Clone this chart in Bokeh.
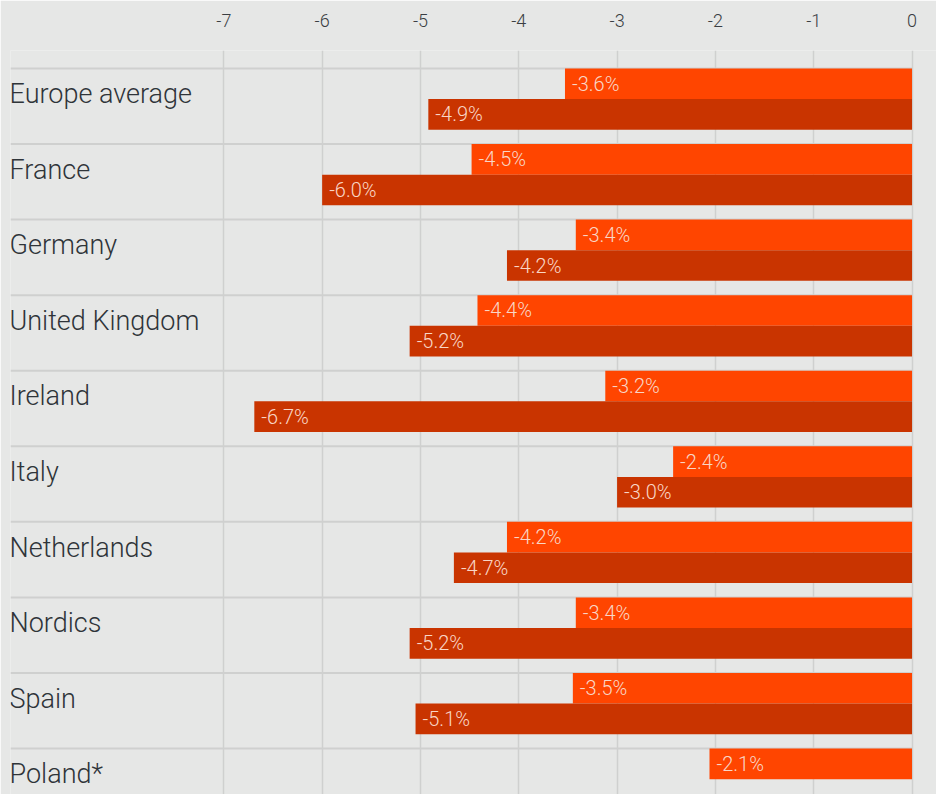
from bokeh.plotting import figure
from bokeh.models import Range1d, FixedTicker, ColumnDataSource
from bokeh.core.properties import value
from bokeh.embed import file_html
from bokeh.resources import INLINE

categories = ["Europe average", "France", "Germany", "United Kingdom", "Ireland",
              "Italy", "Netherlands", "Nordics", "Spain", "Poland*"]
series_a = [-3.53, -4.48, -3.42, -4.42, -3.12, -2.43, -4.12, -3.42, -3.45, -2.06]
series_b = [-4.92, -6.00, -4.12, -5.11, -6.69, -3.00, -4.66, -5.11, -5.05, None]
labels_a = ["-3.6%", "-4.5%", "-3.4%", "-4.4%", "-3.2%", "-2.4%", "-4.2%", "-3.4%", "-3.5%", "-2.1%"]
labels_b = ["-4.9%", "-6.0%", "-4.2%", "-5.2%", "-6.7%", "-3.0%", "-4.7%", "-5.2%", "-5.1%", ""]
ticks = [-7, -6, -5, -4, -3, -2, -1, 0]
tick_labels = ["-7", "-6", "-5", "-4", "-3", "-2", "-1", "0"]

BG = "#e6e7e6"
LIGHT = "#ff4500"
DARK = "#c93400"
FONT = value("Roboto Light")

XL, XR = -9.170, 0.249
p = figure(width=936, height=794, output_backend="svg", toolbar_location=None,
           x_range=Range1d(XL, XR), y_range=Range1d(-9.608, 0.238),
           x_axis_location="above", y_axis_location=None,
           min_border_left=10, min_border_right=0, min_border_top=50, min_border_bottom=0)
p.background_fill_color = BG
p.border_fill_color = BG
p.outline_line_color = None

ax = p.xaxis[0]
ax.ticker = FixedTicker(ticks=ticks)
ax.major_label_overrides = {t: s for t, s in zip(ticks, tick_labels)}
ax.axis_line_color = None
ax.major_tick_line_color = None
ax.minor_tick_line_color = None
ax.major_label_text_font = "Roboto Light"
ax.major_label_text_font_size = "18px"
ax.major_label_text_color = "#3a3e43"
ax.major_label_standoff = 18

p.xgrid.ticker = FixedTicker(ticks=ticks)
p.xgrid.grid_line_color = "#cfd0cf"
p.xgrid.grid_line_width = 1.5
p.ygrid.grid_line_color = None

n = len(categories)
tops = [-i for i in range(n)]
p.segment(x0=[XL] * n, x1=[0] * n, y0=tops, y1=tops, line_color="#cfd0cf", line_width=2)

ya = [-i - 0.2025 for i in range(n)]
yb = [-i - 0.6075 for i in range(n)]
xb = [v if v is not None else float("nan") for v in series_b]

src_a = ColumnDataSource(dict(y=ya, left=series_a, lab=labels_a))
src_b = ColumnDataSource(dict(y=yb, left=xb, lab=labels_b))
p.hbar(y="y", left="left", right=0, height=0.405, source=src_a, fill_color=LIGHT, line_color=None)
p.hbar(y="y", left="left", right=0, height=0.405, source=src_b, fill_color=DARK, line_color=None)

for src in (src_a, src_b):
    p.text(x="left", y="y", text="lab", source=src, x_offset=7, text_align="left",
           text_baseline="middle", text_font=FONT, text_font_size="20px", text_color="#f9d6c6")

p.text(x=[XL] * n, y=[-i - 0.34 for i in range(n)], text=categories, text_align="left",
       x_offset=-1, text_baseline="alphabetic", text_font=FONT, text_font_size="27px",
       text_color="#2f3439")

open("out.html", "w").write(file_html(p, INLINE))
